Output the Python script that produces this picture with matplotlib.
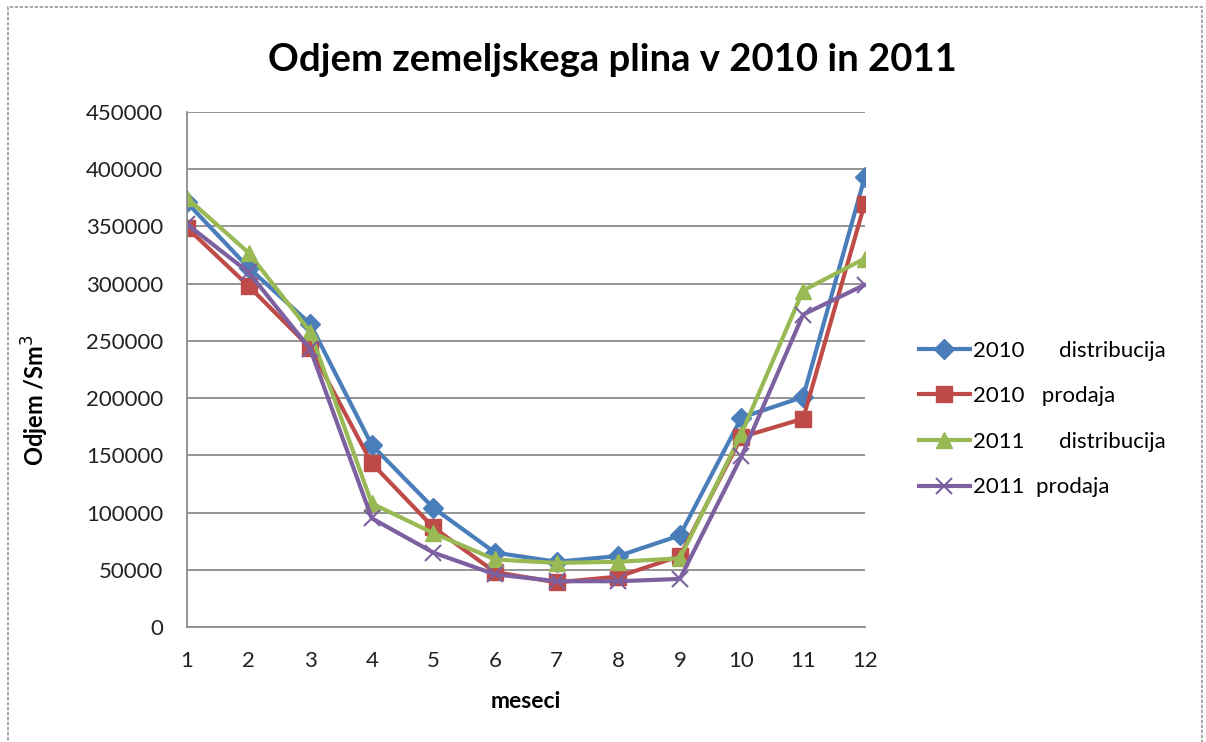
import matplotlib.pyplot as plt
from matplotlib.patches import Rectangle

plt.rcParams['font.family'] = ['Lato', 'DejaVu Sans']

meseci = [1, 2, 3, 4, 5, 6, 7, 8, 9, 10, 11, 12]
dist_2010 = [371000, 314000, 265000, 159000, 104000, 65000, 57000, 62000, 80000, 183000, 201000, 393000]
prod_2010 = [349000, 298000, 244000, 143000, 87000, 48000, 39000, 44000, 62000, 166000, 182000, 370000]
dist_2011 = [375000, 327000, 258000, 108000, 82000, 59000, 56000, 57000, 60000, 169000, 294000, 322000]
prod_2011 = [352000, 310000, 243000, 95000, 65000, 46000, 40000, 40000, 42000, 149000, 273000, 299000]
yticks = [0, 50000, 100000, 150000, 200000, 250000, 300000, 350000, 400000, 450000]

fig = plt.figure(figsize=(12.06, 7.42), dpi=100)
ax = fig.add_axes([0.155, 0.155, 0.562, 0.694])

ax.plot(meseci, dist_2010, color='#4A7EBB', lw=3, marker='D', ms=10, label='2010      distribucija')
ax.plot(meseci, prod_2010, color='#BE4B48', lw=3, marker='s', ms=12, label='2010   prodaja')
ax.plot(meseci, dist_2011, color='#98B954', lw=3, marker='^', ms=12, label='2011      distribucija')
ax.plot(meseci, prod_2011, color='#7D60A0', lw=3, marker='x', ms=12, mew=1.5, label='2011  prodaja')

ax.set_xlim(1, 12)
ax.set_ylim(0, 450000)
ax.set_xticks(meseci)
ax.set_yticks(yticks)
ax.tick_params(length=0, labelsize=16, colors='#222222')
ax.tick_params(axis='y', pad=17)
ax.tick_params(axis='x', pad=17)
ax.yaxis.grid(True, color='#8c8c8c', lw=1.3)
ax.set_axisbelow(True)
for s in ['top', 'right']:
    ax.spines[s].set_visible(False)
for s in ['left', 'bottom']:
    ax.spines[s].set_color('#8c8c8c')
    ax.spines[s].set_linewidth(1.3)

ax.set_xlabel('meseci', fontsize=16.5, fontweight='bold')
ax.xaxis.set_label_coords(0.5, -0.125)
ax.set_ylabel('Odjem /Sm$^3$', fontsize=17, fontweight='bold')
ax.yaxis.set_label_coords(-0.2, 0.44)
fig.text(0.508, 0.919, 'Odjem zemeljskega plina v 2010 in 2011', ha='center', va='center',
         fontsize=27.5, fontweight='bold')

ax.legend(loc='center left', bbox_to_anchor=(1.05, 0.404), frameon=False, fontsize=16,
          handlelength=2.3, labelspacing=1.15, handletextpad=0.15)

fig.patches.append(Rectangle((0.007, -0.05), 0.99, 1.04, transform=fig.transFigure, fill=False,
                             edgecolor='#9a9a9a', lw=1.2, ls=(0, (2, 1))))

fig.savefig('out.png')
